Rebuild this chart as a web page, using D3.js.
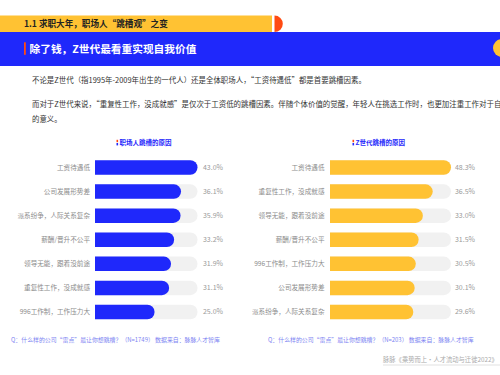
<!DOCTYPE html>
<html><head><meta charset="utf-8">
<script src="https://cdn.jsdelivr.net/npm/d3@7"></script>
<style>
html,body{margin:0;padding:0;background:#fff;overflow:hidden}
svg{display:block;font-family:"Noto Sans CJK SC","Noto Sans",sans-serif}
</style></head><body>
<script>
const sectionTitle = "1.1 求职大年，职场人“跳槽观”之变";
const mainTitle = "除了钱，Z世代最看重实现自我价值";
const paragraphs = [
  "不论是Z世代（指1995年-2009年出生的一代人）还是全体职场人，“工资待遇低”都是首要跳槽因素。",
  "而对于Z世代来说，“重复性工作，没成就感”是仅次于工资低的跳槽因素。伴随个体价值的觉醒，年轻人在挑选工作时，也更加注重工作对于自身",
  "的意义。"
];
const leftTitle = "职场人跳槽的原因";
const leftCategories = ["工资待遇低","公司发展形势差","派系纷争，人际关系复杂","薪酬/晋升不公平","领导无能，跟着没前途","重复性工作，没成就感","996工作制，工作压力大"];
const leftValues = [43.0,36.1,35.9,33.2,31.9,31.1,25.0];
const rightTitle = "Z世代跳槽的原因";
const rightCategories = ["工资待遇低","重复性工作，没成就感","领导无能，跟着没前途","薪酬/晋升不公平","996工作制，工作压力大","公司发展形势差","派系纷争，人际关系复杂"];
const rightValues = [48.3,36.5,33.0,31.5,30.5,30.1,29.6];
const leftNote = "Q：什么样的公司“雷点”最让你想跳槽？（N=1749） 数据来自：脉脉人才智库";
const rightNote = "Q：什么样的公司“雷点”最让你想跳槽？（N=203） 数据来自：脉脉人才智库";
const sourceText = "脉脉《乘势而上·人才流动与迁徙2022》";
const trackMax = 43;

const W = 500, H = 375;
const BLUE = "#1f28fb", YEL = "#ffc233", RED = "#ff4b12";
const svg = d3.select("body").append("svg").attr("width", W).attr("height", H);

// header
svg.append("path").attr("d", "M0,15.5 H272 V32 H0 Z").attr("fill", YEL);
svg.append("path").attr("d", d3.arc()({innerRadius:0, outerRadius:8.3, startAngle:0, endAngle:Math.PI}))
  .attr("transform", "translate(274.5,23.8)").attr("fill", RED);
svg.append("rect").attr("x", 0).attr("y", 32).attr("width", W).attr("height", 34).attr("fill", BLUE);
svg.append("circle").attr("cx", 502).attr("cy", 48).attr("r", 9).attr("fill", YEL);
svg.append("text").attr("x", 24).attr("y", 27.2).attr("font-size", 8.6).attr("font-weight", "bold")
  .attr("fill", "#222").text(sectionTitle);
svg.append("rect").attr("x", 24).attr("y", 42.3).attr("width", 1.8).attr("height", 12.5).attr("fill", RED);
svg.append("text").attr("x", 29.5).attr("y", 52.8).attr("font-size", 10.7).attr("font-weight", "bold")
  .attr("fill", "#fff").text(mainTitle);

// paragraphs
const py = [83, 106.5, 121.5];
paragraphs.forEach((p, i) => {
  svg.append("text").attr("x", 32).attr("y", py[i]).attr("font-size", 7.45)
    .attr("fill", "#333").text(p);
});

function chart(opts) {
  const {cats, vals, title, x0, x1, labelX, valX, color, titleX} = opts;
  const x = d3.scaleLinear().domain([0, trackMax]).range([x0, x1]).clamp(true);
  const y = d3.scalePoint().domain(d3.range(cats.length)).range([167.5, 312]);
  const bh = 14.5, r = bh / 2;
  const g = svg.append("g");
  // title
  g.append("rect").attr("x", titleX).attr("y", 139.8).attr("width", 1.6).attr("height", 2.4).attr("fill", RED);
  g.append("rect").attr("x", titleX).attr("y", 143).attr("width", 1.6).attr("height", 2.4).attr("fill", BLUE);
  g.append("text").attr("x", titleX + 3).attr("y", 145.3).attr("font-size", 6.5).attr("font-weight", "bold")
    .attr("fill", BLUE).text(title);
  const rows = g.selectAll("g.row").data(cats.map((c, i) => ({c, v: vals[i], i}))).join("g").attr("class", "row");
  const rounded = (xa, xb, yc) => {
    const w = Math.max(xb - xa, r);
    return `M${xa},${yc - r} H${xa + w - r} A${r},${r} 0 0 1 ${xa + w - r},${yc + r} H${xa} Z`;
  };
  rows.append("path").attr("d", d => rounded(x(0), x(trackMax), y(d.i))).attr("fill", "#f1f1f1");
  rows.append("path").attr("d", d => rounded(x(0), x(d.v), y(d.i))).attr("fill", color);
  rows.append("text").attr("x", labelX).attr("y", d => y(d.i) + 2.4).attr("text-anchor", "end")
    .attr("font-size", 6.6).attr("fill", "#8c8c8c").text(d => d.c);
  rows.append("text").attr("x", valX).attr("y", d => y(d.i) + 2.4).attr("text-anchor", "end")
    .attr("font-size", 7).attr("fill", "#9a9a9a").text(d => d.v.toFixed(1) + "%");
}
chart({cats: leftCategories, vals: leftValues, title: leftTitle, x0: 95, x1: 197.5, labelX: 90, valX: 223, color: BLUE, titleX: 116.5});
chart({cats: rightCategories, vals: rightValues, title: rightTitle, x0: 330, x1: 451, labelX: 324.5, valX: 475, color: YEL, titleX: 352.5});

// notes
svg.append("text").attr("x", 11).attr("y", 342).attr("font-size", 5.9).attr("fill", "#7d84f2").text(leftNote);
svg.append("text").attr("x", 268).attr("y", 342).attr("font-size", 5.9).attr("fill", "#7d84f2").text(rightNote);
svg.append("text").attr("x", 383).attr("y", 362).attr("font-size", 6.3).attr("fill", "#aaa").text(sourceText);
svg.append("line").attr("x1", 383).attr("x2", 500).attr("y1", 365).attr("y2", 365).attr("stroke", "#ccc").attr("stroke-width", 0.6);
</script>
</body></html>
